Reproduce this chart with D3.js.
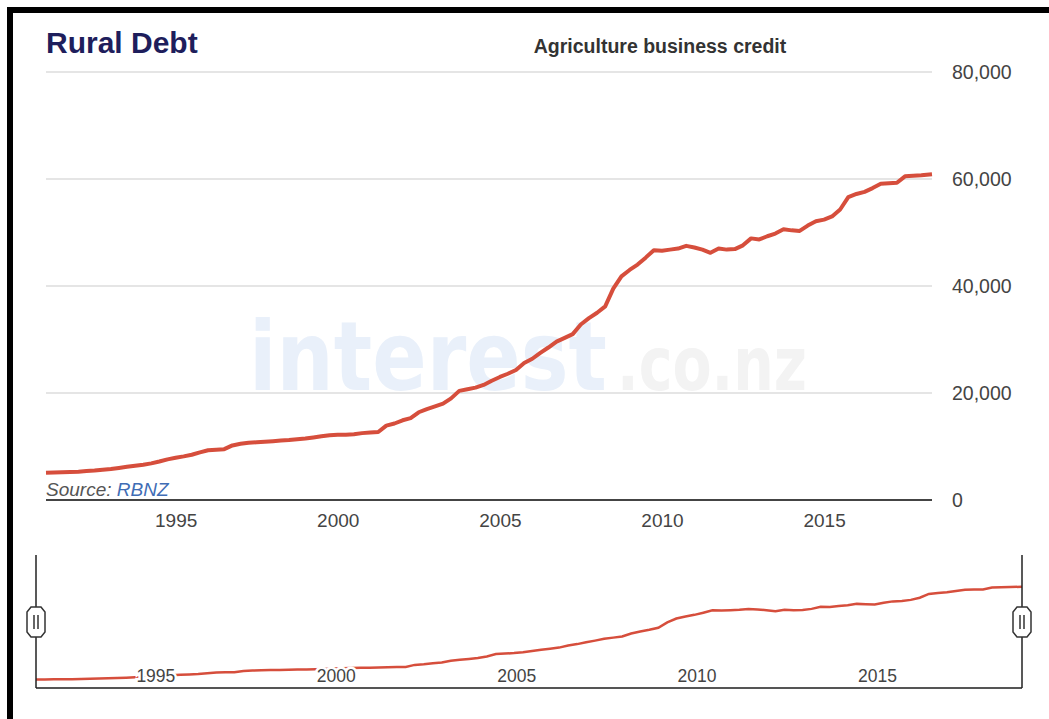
<!DOCTYPE html>
<html>
<head>
<meta charset="utf-8">
<title>Rural Debt</title>
<script src="https://d3js.org/d3.v7.min.js"></script>
<style>
  body {margin: 0; background: #fff; font-family: "Liberation Sans", Arial, sans-serif;}
  svg {display: block;}
</style>
</head>
<body>
<script>
// Agriculture business credit ($m), quarterly readings
const months = [
  "1991-01","1991-04","1991-07","1991-10","1992-01","1992-04","1992-07","1992-10",
  "1993-01","1993-04","1993-07","1993-10","1994-01","1994-04","1994-07","1994-10",
  "1995-01","1995-04","1995-07","1995-10","1996-01","1996-04","1996-07","1996-10",
  "1997-01","1997-04","1997-07","1997-10","1998-01","1998-04","1998-07","1998-10",
  "1999-01","1999-04","1999-07","1999-10","2000-01","2000-04","2000-07","2000-10",
  "2001-01","2001-04","2001-07","2001-10","2002-01","2002-04","2002-07","2002-10",
  "2003-01","2003-04","2003-07","2003-10","2004-01","2004-04","2004-07","2004-10",
  "2005-01","2005-04","2005-07","2005-10","2006-01","2006-04","2006-07","2006-10",
  "2007-01","2007-04","2007-07","2007-10","2008-01","2008-04","2008-07","2008-10",
  "2009-01","2009-04","2009-07","2009-10","2010-01","2010-04","2010-07","2010-10",
  "2011-01","2011-04","2011-07","2011-10","2012-01","2012-04","2012-07","2012-10",
  "2013-01","2013-04","2013-07","2013-10","2014-01","2014-04","2014-07","2014-10",
  "2015-01","2015-04","2015-07","2015-10","2016-01","2016-04","2016-07","2016-10",
  "2017-01","2017-04","2017-07","2017-10","2018-01","2018-05"
];
const credit = [
  5100,5150,5200,5250,5300,5400,5500,5650,
  5800,6000,6200,6400,6600,6850,7200,7600,
  7900,8150,8450,8900,9300,9400,9500,10200,
  10500,10700,10800,10900,11000,11100,11200,11350,
  11500,11700,11900,12100,12200,12200,12300,12500,
  12600,12700,13900,14300,14900,15300,16400,17000,
  17500,18000,19000,20400,20700,21000,21500,22300,
  23000,23600,24300,25600,26400,27500,28500,29600,
  30300,31000,32800,34000,35000,36200,39500,41800,
  43000,44000,45300,46700,46600,46800,47000,47500,
  47200,46800,46200,47000,46800,46900,47600,48900,
  48700,49300,49800,50600,50400,50300,51300,52100,
  52400,53000,54300,56600,57200,57600,58300,59100,
  59200,59300,60500,60600,60700,60900
];
const yTicks = [0, 20000, 40000, 60000, 80000];
const xTickYears = [1995, 2000, 2005, 2010, 2015];

const width = 1049, height = 719;
const lineColor = "#d64e3c";
const parse = d3.timeParse("%Y-%m");
const data = months.map((m, i) => ({date: parse(m), value: credit[i]}));

const svg = d3.select("body").append("svg")
  .attr("width", width).attr("height", height);

// frame (left and top edges)
svg.append("path")
  .attr("d", `M10,${height} L10,10 L${width},10`)
  .attr("fill", "none").attr("stroke", "#000").attr("stroke-width", 6);

// main chart
const x = d3.scaleTime().domain(d3.extent(data, d => d.date)).range([46, 932]);
const y = d3.scaleLinear().domain([0, 80000]).range([500, 72]);

// watermark: two words, squeezed with a scale so their boxes stay apart
function watermark(word, left, size, w, color) {
  const t = svg.append("text")
    .attr("font-family", "'DejaVu Sans', sans-serif")
    .attr("font-weight", "bold").attr("font-size", size)
    .attr("fill", color).text(word);
  const sx = w / t.node().getComputedTextLength();
  t.attr("transform", `translate(${left},390) scale(${sx},1)`);
}
watermark("interest", 249, 96, 358, "#e9f0fa");
watermark(".co.nz", 617, 74, 190, "#f3f3f3");

svg.append("g").selectAll("line")
  .data(yTicks.filter(d => d > 0))
  .join("line")
  .attr("x1", 46).attr("x2", 932)
  .attr("y1", d => y(d)).attr("y2", d => y(d))
  .attr("stroke", "#cccccc").attr("stroke-width", 1.2);

const yAxis = svg.append("g")
  .attr("transform", "translate(932,0)")
  .call(d3.axisRight(y).tickValues(yTicks).tickSize(0).tickPadding(20)
    .tickFormat(d3.format(",")));
yAxis.select(".domain").remove();
yAxis.selectAll("text").attr("font-size", 19.5).attr("fill", "#444")
  .attr("font-family", "'Liberation Sans', Arial, sans-serif");

const xAxis = svg.append("g")
  .attr("transform", "translate(0,500)")
  .call(d3.axisBottom(x)
    .tickValues(xTickYears.map(yr => new Date(yr, 0, 1)))
    .tickSize(0).tickPadding(14).tickFormat(d3.timeFormat("%Y")));
xAxis.select(".domain").remove();
xAxis.selectAll("text").attr("font-size", 19).attr("fill", "#444")
  .attr("font-family", "'Liberation Sans', Arial, sans-serif");

svg.append("line")
  .attr("x1", 46).attr("x2", 932).attr("y1", 500).attr("y2", 500)
  .attr("stroke", "#444").attr("stroke-width", 2);

svg.append("path")
  .datum(data)
  .attr("fill", "none").attr("stroke", lineColor).attr("stroke-width", 4)
  .attr("stroke-linejoin", "round")
  .attr("d", d3.line().x(d => x(d.date)).y(d => y(d.value)));

const src = svg.append("text")
  .attr("x", 46).attr("y", 496)
  .attr("font-size", 19).attr("font-style", "italic");
src.append("tspan").attr("fill", "#555").text("Source: ");
src.append("tspan").attr("fill", "#3f6db5").text("RBNZ");

svg.append("text")
  .attr("x", 46).attr("y", 53)
  .attr("font-size", 30).attr("font-weight", "bold").attr("fill", "#1e1e5c")
  .text("Rural Debt");

svg.append("text")
  .attr("x", 660).attr("y", 53).attr("text-anchor", "middle")
  .attr("font-size", 19.5).attr("font-weight", "bold").attr("fill", "#333")
  .text("Agriculture business credit");

// navigator
const nx = d3.scaleTime().domain(x.domain()).range([36, 1022]);
const ny = d3.scaleLinear().domain([0, 80000]).range([688, 555]);

svg.append("path")
  .datum(data)
  .attr("fill", "none").attr("stroke", lineColor).attr("stroke-width", 2.5)
  .attr("d", d3.line().x(d => nx(d.date)).y(d => ny(d.value)));

svg.append("g").selectAll("text")
  .data(xTickYears)
  .join("text")
  .attr("x", d => nx(new Date(d, 0, 1)) - 5)
  .attr("y", 682)
  .attr("text-anchor", "end")
  .attr("font-size", 17.5).attr("fill", "#444")
  .attr("stroke", "#fff").attr("stroke-width", 5).attr("paint-order", "stroke")
  .text(d => d);

svg.append("line")
  .attr("x1", 36).attr("x2", 1022).attr("y1", 688).attr("y2", 688)
  .attr("stroke", "#555").attr("stroke-width", 2);

const handles = svg.append("g").selectAll("g")
  .data(nx.range())
  .join("g")
  .attr("transform", d => `translate(${d},0)`);
handles.append("line")
  .attr("y1", 555).attr("y2", 688)
  .attr("stroke", "#222").attr("stroke-width", 1.5);
handles.append("path")
  .attr("d", "M-5,607 L5,607 L9,612 L9,632 L5,637 L-5,637 L-9,632 L-9,612 Z")
  .attr("fill", "#fff").attr("stroke", "#333").attr("stroke-width", 1.5);
handles.selectAll(".grip")
  .data([-2, 2])
  .join("line")
  .attr("x1", d => d).attr("x2", d => d)
  .attr("y1", 615).attr("y2", 629)
  .attr("stroke", "#333").attr("stroke-width", 1.5);
</script>
</body>
</html>
